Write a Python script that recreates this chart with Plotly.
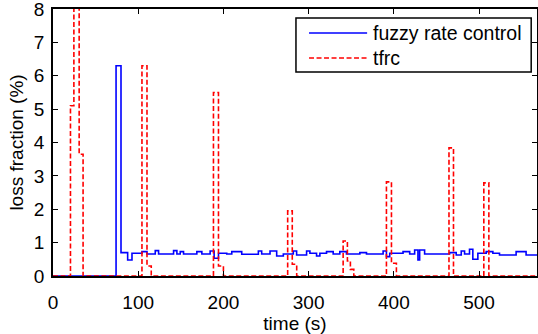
import plotly.graph_objects as go

# fuzzy rate control (step data: change times in s, loss fraction in %)
fuzzy_t = [0, 74, 79.8, 87.6, 92.7, 104.4, 110.3, 120.0, 123.9, 141.5, 145.4, 149.3,
           153.2, 168.8, 174.7, 184.4, 189.1, 194.2, 203.9, 209.8, 221.5, 241.0, 244.9,
           254.7, 262.5, 270.3, 282.0, 285.9, 297.6, 301.5, 309.3, 313.2, 321.0, 328.8,
           336.6, 344.4, 360.1, 367.9, 387.4, 391.3, 395.2, 410.8, 418.6, 424.4, 428.3,
           430.3, 436.1, 465.4, 473.2, 479.1, 483.0, 488.8, 492.7, 498.6, 508.4, 516.2,
           524.0, 543.5, 555.2, 568]
fuzzy_v = [0, 6.3, 0.70, 0.48, 0.68, 0.73, 0.66, 0.76, 0.66, 0.76, 0.66, 0.73,
           0.66, 0.73, 0.66, 0.75, 0.53, 0.68, 0.66, 0.73, 0.65, 0.75, 0.66,
           0.75, 0.60, 0.66, 0.75, 0.63, 0.75, 0.68, 0.60, 0.68, 0.73, 0.66,
           0.73, 0.66, 0.70, 0.66, 0.75, 0.58, 0.68, 0.73, 0.66, 0.78, 0.48,
           0.78, 0.66, 0.70, 0.63, 0.75, 0.66, 0.80, 0.50, 0.68, 0.73, 0.68,
           0.63, 0.73, 0.63, 0.63]

# tfrc (step data)
tfrc_t = [0, 20.5, 24.5, 30.7, 35.3, 104.4, 110.3, 115.3, 188.3, 194.2, 200.0,
          275.4, 280.8, 286.0, 340.5, 345.5, 349.0, 353.0, 391.3, 397.2, 403.0,
          464.7, 470.0, 505.6, 511.5, 568]
tfrc_v = [0, 5.1, 9.5, 3.65, 0, 6.3, 0.3, 0, 5.5, 0.3, 0,
          1.95, 0.35, 0, 1.05, 0.45, 0.2, 0, 2.82, 0.38, 0,
          3.84, 0, 2.79, 0, 0]

series_names = ["fuzzy rate control", "tfrc"]
x_ticks = [0, 100, 200, 300, 400, 500]
y_ticks = [0, 1, 2, 3, 4, 5, 6, 7, 8]

FONT = "Liberation Sans, Arial, Helvetica, sans-serif"
BLUE = "#0000ff"
RED = "#ff0000"
DASH = "5px,2.5px"

fig = go.Figure()
fig.add_trace(go.Scatter(x=fuzzy_t, y=fuzzy_v, mode="lines", line_shape="hv",
                         name=series_names[0], showlegend=False,
                         line=dict(color=BLUE, width=1.6)))
fig.add_trace(go.Scatter(x=tfrc_t, y=tfrc_v, mode="lines", line_shape="hv",
                         name=series_names[1], showlegend=False,
                         line=dict(color=RED, width=1.6, dash=DASH)))

axis_common = dict(showline=True, linecolor="black", linewidth=1.5, mirror="allticks",
                   ticks="inside", ticklen=5, tickwidth=1, tickcolor="black",
                   showgrid=False, zeroline=False, automargin=False,
                   ticklabeloverflow="allow",
                   tickfont=dict(family=FONT, size=19, color="black"))

# legend box (drawn in paper coordinates, MATLAB-style)
box = dict(x0=0.502, x1=0.988, y0=0.764, y1=0.966)
rows_y = [0.910, 0.8165]
sample_x = (0.529, 0.649)
text_x = 0.657
styles = [dict(color=BLUE, width=1.6), dict(color=RED, width=1.6, dash=DASH)]

shapes = [dict(type="rect", xref="paper", yref="paper", layer="above",
               fillcolor="white", line=dict(color="black", width=1.5), **box)]
annotations = []
for name, yy, st in zip(series_names, rows_y, styles):
    shapes.append(dict(type="line", xref="paper", yref="paper", layer="above",
                       x0=sample_x[0], x1=sample_x[1], y0=yy, y1=yy, line=st))
    annotations.append(dict(text=name, xref="paper", yref="paper", x=text_x, y=yy,
                            xanchor="left", yanchor="middle", showarrow=False,
                            font=dict(family=FONT, size=19.5, color="black")))

fig.update_layout(
    width=538, height=334,
    margin=dict(l=53, r=1, t=9, b=58),
    paper_bgcolor="white", plot_bgcolor="white",
    font=dict(family=FONT, size=19, color="black"),
    xaxis=dict(range=[0, 568], tickvals=x_ticks, ticklabelstandoff=8,
               title=dict(text="time (s)", standoff=1,
                          font=dict(family=FONT, size=19)),
               **axis_common),
    yaxis=dict(range=[0, 8], tickvals=y_ticks, ticklabelstandoff=3,
               title=dict(text="loss fraction (%)", standoff=5,
                          font=dict(family=FONT, size=19)),
               **axis_common),
    shapes=shapes,
    annotations=annotations,
    showlegend=False,
)

fig.write_html("out.html",
               config={"displayModeBar": False},
               post_script="document.body.style.margin='0';"
                           "document.body.style.overflow='hidden';")
